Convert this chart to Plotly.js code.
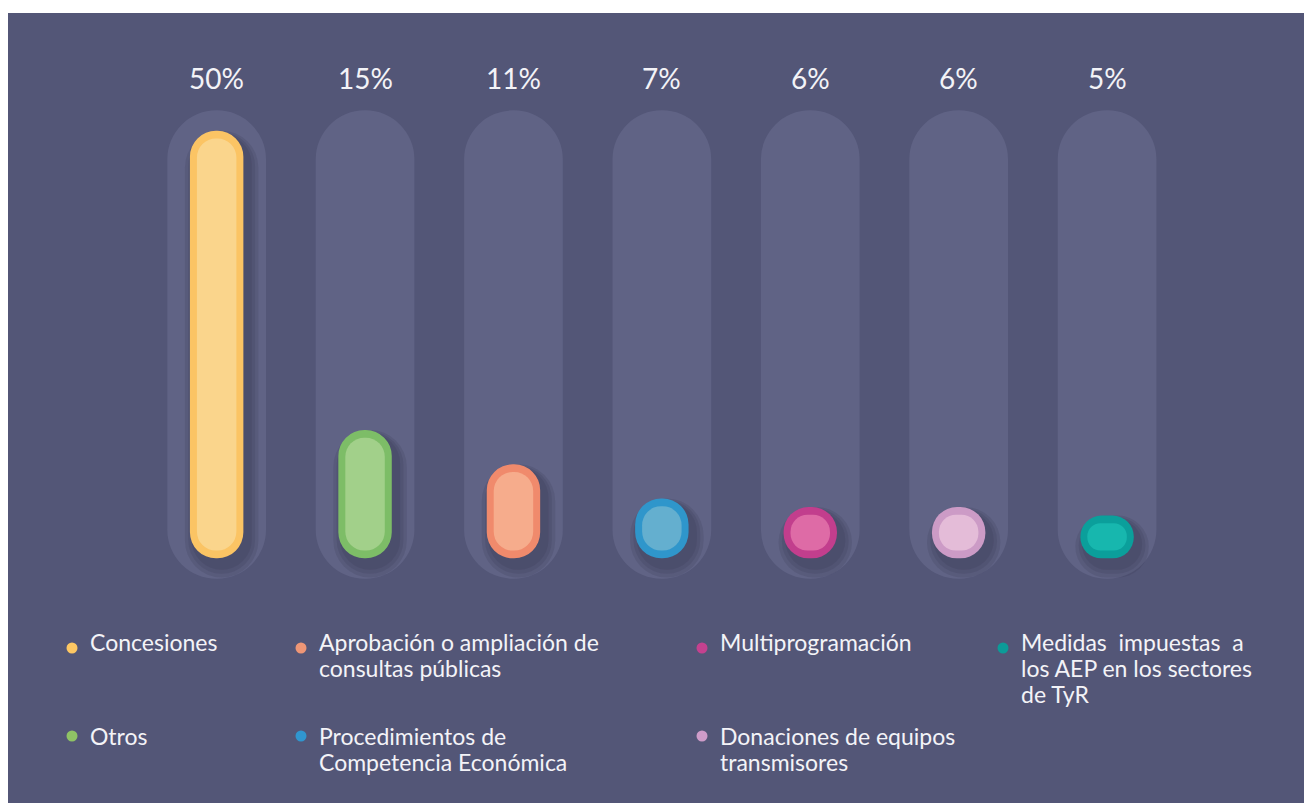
<!DOCTYPE html>
<html>
<head>
<meta charset="utf-8">
<script src="https://cdn.plot.ly/plotly-3.0.1.min.js"></script>
<style>
  html, body { margin: 0; padding: 0; background: #ffffff; }
  #chart { position: absolute; left: 8px; top: 13px; width: 1296px; height: 790px; }
</style>
</head>
<body>
<div id="chart"></div>
<script>
// Data
var categories = ["Concesiones", "Otros", "Aprobación o ampliación de consultas públicas",
  "Procedimientos de Competencia Económica", "Multiprogramación",
  "Donaciones de equipos transmisores", "Medidas impuestas a los AEP en los sectores de TyR"];
var shares = [50, 15, 11, 7, 6, 6, 5];
var shareLabels = ["50%", "15%", "11%", "7%", "6%", "6%", "5%"];
var legendLines = [
  ["Concesiones"],
  ["Otros"],
  ["Aprobación o ampliación de", "consultas públicas"],
  ["Procedimientos de", "Competencia Económica"],
  ["Multiprogramación"],
  ["Donaciones de equipos", "transmisores"],
  ["Medidas  impuestas  a", "los AEP en los sectores", "de TyR"]
];

// colours
var bgColor = "#535677";
var trackColor = "#606385";
var shadowColor = "rgba(36,38,64,0.13)";
var ringColors = ["#FBC464", "#7DBD67", "#F08A6C", "#2F96CB", "#C23E8D", "#CC9BC6", "#0B9F9B"];
var innerColors = ["#FAD58C", "#A2D08A", "#F6AC8C", "#64AFCF", "#DE6BA6", "#E4BCD8", "#17B7AE"];
var dotColors = ["#FDC763", "#8FC365", "#EE9676", "#3096CF", "#C4418F", "#CE9CC9", "#0C9B98"];
var textColor = "#F3F3F7";
var font = "Lato, 'Open Sans', sans-serif";

var W = 1296, H = 790;
var catPx = 148.4;      // pixels per category step
var maxShare = Math.max.apply(null, shares);
var trackPad = 2.4;     // track sticks out past the tallest bar (y units)
var innerInset = 0.9;   // lighter core inside each pill (y units)
var pillWidth = 0.36;

// a pill = one bar from lo to hi, rounded at both ends
function pill(lo, hi, width, colors, shiftPx) {
  var t = {
    type: "bar", x: categories, width: width, hoverinfo: "skip", showlegend: false,
    base: lo,
    y: hi.map(function (h, i) { return h - lo[i]; }),
    marker: { color: colors, cornerradius: "50%", line: { width: 0 } }
  };
  if (shiftPx) t.offset = -width / 2 + shiftPx / catPx;
  return t;
}

var data = [
  pill(shares.map(function () { return -trackPad; }),
       shares.map(function () { return maxShare + trackPad; }), 0.665,
       shares.map(function () { return trackColor; }))
];
// soft drop shadow: a few translucent, growing layers shifted right / down
[1, 2, 3].forEach(function (k) {
  data.push(pill(shares.map(function () { return -0.9 - k * 0.45; }),
                 shares.map(function (v) { return v - 0.6 + k * 0.2; }),
                 pillWidth + k * 0.045,
                 shares.map(function () { return shadowColor; }), 5));
});
data.push(pill(shares.map(function () { return 0; }), shares, pillWidth, ringColors));
data.push(pill(shares.map(function () { return innerInset; }),
               shares.map(function (v) { return v - innerInset; }), 0.266, innerColors));

var annotations = [];
// percentage above each track
shareLabels.forEach(function (lab, i) {
  annotations.push({
    x: categories[i], y: maxShare + trackPad, xref: "x", yref: "y",
    yanchor: "middle", yshift: 32, text: lab, showarrow: false,
    font: { family: font, size: 28, color: textColor }
  });
});

// legend, laid out in columns of two
var colDot = [64, 293, 694, 995];
var rowTop = [629, 723];
var rowDot = [635, 723];
var lineGap = 26;
var shapes = [];
legendLines.forEach(function (lines, i) {
  var col = Math.floor(i / 2), row = i % 2;
  shapes.push({
    type: "circle", xref: "paper", yref: "paper",
    xsizemode: "pixel", ysizemode: "pixel",
    xanchor: colDot[col] / W, yanchor: 1 - rowDot[row] / H,
    x0: -5.5, x1: 5.5, y0: -5.5, y1: 5.5,
    fillcolor: dotColors[i], line: { width: 0 }
  });
  lines.forEach(function (t, j) {
    annotations.push({
      xref: "paper", yref: "paper", x: (colDot[col] + 16) / W,
      y: 1 - (rowTop[row] + j * lineGap) / H,
      xanchor: "left", yanchor: "middle", text: t, showarrow: false,
      font: { family: font, size: 23, color: textColor }
    });
  });
});

var layout = {
  width: W, height: H,
  margin: { l: 0, r: 0, t: 0, b: 0 },
  paper_bgcolor: bgColor, plot_bgcolor: bgColor,
  barmode: "overlay", showlegend: false,
  xaxis: { visible: false, range: [-1.406, 7.327], fixedrange: true },
  yaxis: { visible: false, range: [-28.62, 63.78], fixedrange: true },
  annotations: annotations, shapes: shapes
};

Plotly.newPlot("chart", data, layout, { displayModeBar: false, staticPlot: true });
</script>
</body>
</html>
